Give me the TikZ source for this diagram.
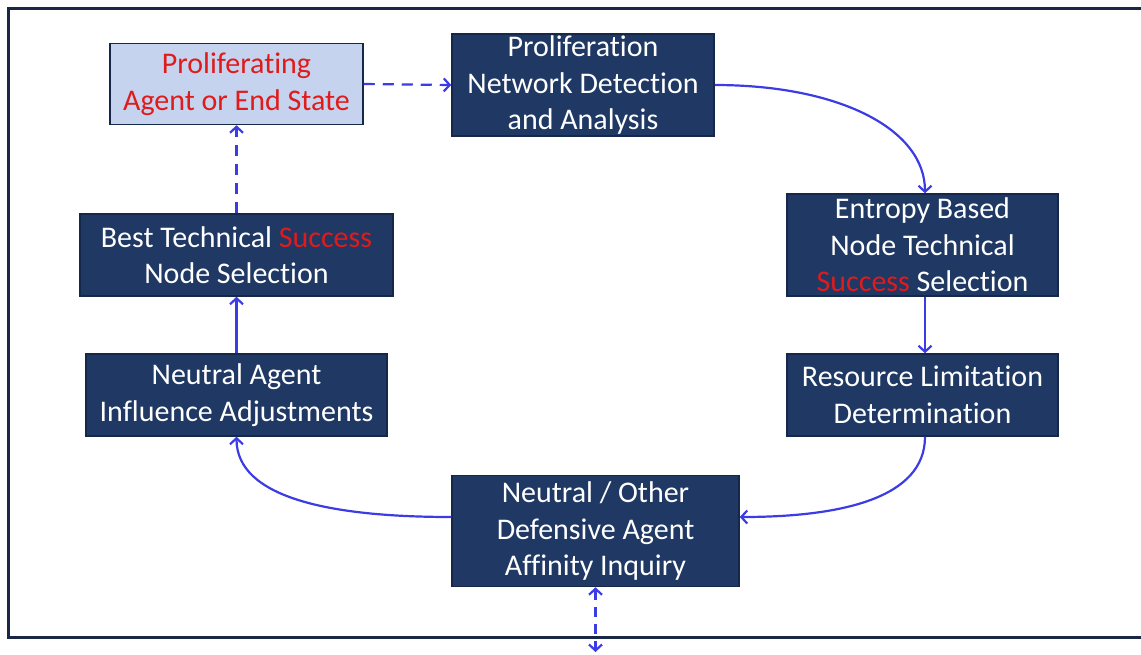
\documentclass[tikz,border=0pt]{standalone}
\usepackage{fontspec}
\setmainfont{Carlito}[Ligatures=NoCommon,RawFeature={-liga;-clig;-calt;-dlig}]
\usetikzlibrary{arrows.meta}
\definecolor{navy}{HTML}{1F3864}
\definecolor{navyedge}{HTML}{16284A}
\definecolor{lightbox}{HTML}{C5D3EE}
\definecolor{arrowblue}{HTML}{3C3CE4}
\definecolor{redtext}{HTML}{E01B1B}
\definecolor{framecol}{HTML}{1B2845}
\begin{document}
\begin{tikzpicture}[x=1pt,y=-1pt,
  box/.style={draw=navyedge,line width=1.5pt,fill=navy,text=white,align=center,inner sep=0pt,
    font=\fontsize{30}{36.5}\selectfont},
  lbox/.style={box,fill=lightbox,text=redtext},
  conn/.style={draw=arrowblue,line width=2.2pt,-{Straight Barb[length=6pt,width=13pt,line width=2.2pt]}},
  dconn/.style={conn,dash pattern=on 11pt off 8pt}]
\useasboundingbox (0,0) rectangle (1141,654);
\draw[framecol,line width=3pt] (1170,8) -- (8,8) -- (8,637) -- (1170,637);
\node[lbox,minimum width=253pt,minimum height=81pt] (pa) at (236.5,84) {Proliferating\\Agent or End State};
\node[box,minimum width=262pt,minimum height=102pt] (pn) at (583,85) {Proliferation\\Network Detection\\and Analysis};
\node[box,minimum width=271pt,minimum height=102pt] (en) at (922.5,245) {Entropy Based\\Node Technical\\\textcolor{redtext}{Success} Selection};
\node[box,minimum width=271pt,minimum height=82pt] (rl) at (922.5,395) {Resource Limitation\\Determination};
\node[box,minimum width=287pt,minimum height=111pt] (nd) at (595.5,531) {Neutral / Other\\Defensive Agent\\Affinity Inquiry};
\node[box,minimum width=301pt,minimum height=82pt] (na) at (236.5,395) {Neutral Agent\\Influence Adjustments};
\node[box,minimum width=313pt,minimum height=82pt] (bt) at (236.5,255) {Best Technical \textcolor{redtext}{Success}\\Node Selection};
\coordinate (out) at (595.5,652);
\draw[dconn] (pa.east) -- (pn.west);
\draw[conn] (pn.east) .. controls +(125,0) and +(0,-64) .. ([xshift=2.5pt]en.north);
\draw[conn] ([xshift=2.5pt]en.south) -- ([xshift=2.5pt]rl.north);
\draw[conn] ([xshift=2.5pt]rl.south) .. controls +(0,62) and +(100,0) .. ([yshift=14pt]nd.east);
\draw[conn] ([yshift=14pt]nd.west) .. controls +(-118,0) and +(0,62) .. (na.south);
\draw[conn] (na.north) -- (bt.south);
\draw[dconn] (bt.north) -- (pa.south);
\draw[dconn,{Straight Barb[length=6pt,width=13pt,line width=2.2pt]}-{Straight Barb[length=6pt,width=13pt,line width=2.2pt]},dash pattern=on 10pt off 7pt] (nd.south) -- (out);
\end{tikzpicture}
\end{document}
